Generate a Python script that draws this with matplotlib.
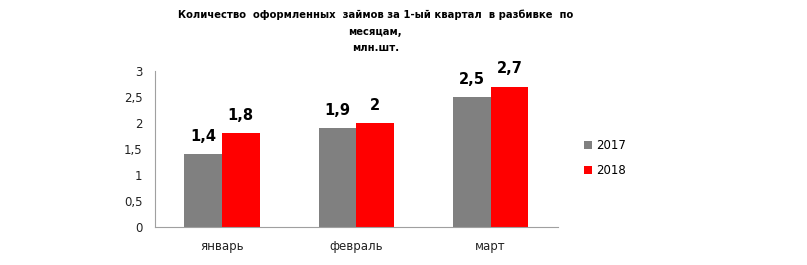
import matplotlib.pyplot as plt
import numpy as np

months = ['январь', 'февраль', 'март']
years = ['2017', '2018']
v2017 = [1.4, 1.9, 2.5]
v2018 = [1.8, 2.0, 2.7]
yticks = [0, 0.5, 1, 1.5, 2, 2.5, 3]
ytick_labels = ['0', '0,5', '1', '1,5', '2', '2,5', '3']

fig = plt.figure(figsize=(8.07, 2.65), dpi=100)
ax = fig.add_axes([0.192, 0.143, 0.499, 0.589])

x = np.arange(len(months))
w = 0.28
b1 = ax.bar(x - w / 2, v2017, w, color='#808080', label=years[0])
b2 = ax.bar(x + w / 2, v2018, w, color='#ff0000', label=years[1])

for bars, vals in [(b1, v2017), (b2, v2018)]:
    for r, v in zip(bars, vals):
        txt = f'{v:g}'.replace('.', ',')
        ax.text(r.get_x() + r.get_width() / 2, v + 0.2, txt,
                ha='center', va='bottom', fontsize=10.5, fontweight='bold')

ax.set_xlim(-0.5, 2.5)
ax.set_ylim(0, 3)
ax.set_yticks(yticks)
ax.set_yticklabels(ytick_labels)
ax.set_xticks(x)
ax.set_xticklabels(months)
ax.tick_params(length=0, labelsize=8.5, colors='#222222')
ax.tick_params(axis='x', pad=9)
ax.tick_params(axis='y', pad=9)
for s in ['top', 'right']:
    ax.spines[s].set_visible(False)
for s in ['left', 'bottom']:
    ax.spines[s].set_color('#a0a0a0')

fig.legend(handles=[b1, b2], labels=years, loc='upper left',
           bbox_to_anchor=(0.71, 0.515), frameon=False, fontsize=8.5,
           handlelength=0.7, handleheight=0.7, handletextpad=0.4, labelspacing=1.0)

fig.text(0.465, 0.965, 'Количество  оформленных  займов за 1-ый квартал  в разбивке  по\nмесяцам,\nмлн.шт.',
         ha='center', va='top', fontsize=7.2, fontweight='bold', linespacing=1.85)

fig.savefig('out.png', dpi=100)
